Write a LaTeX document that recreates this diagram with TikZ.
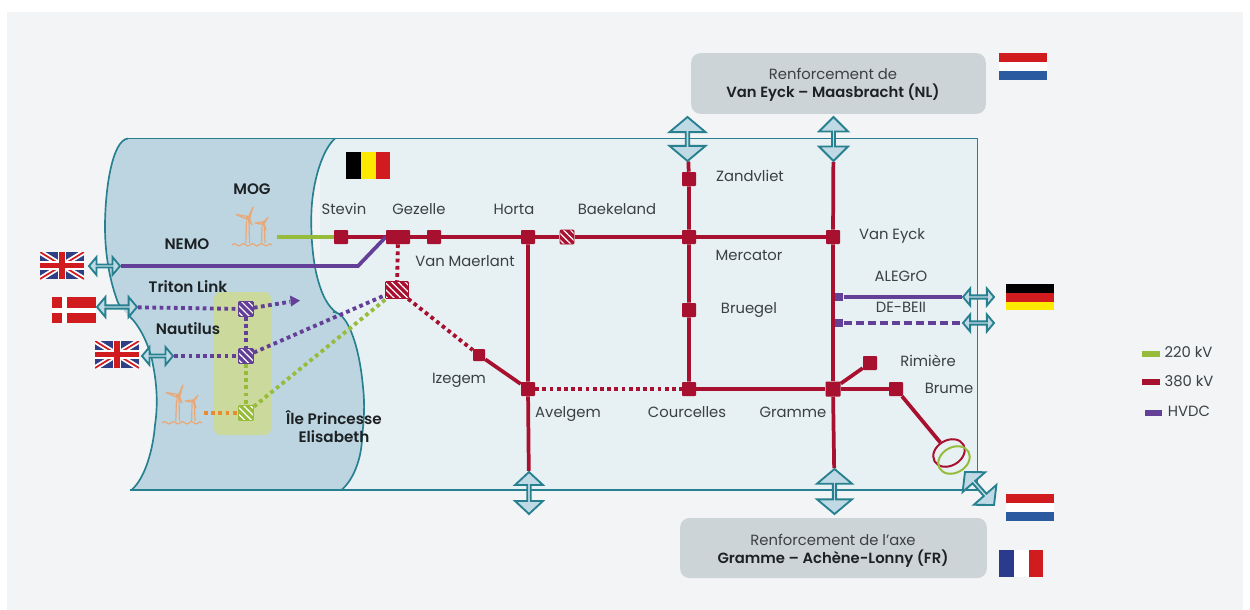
\documentclass[tikz,border=0pt]{standalone}
\usepackage{fontspec}
\setmainfont{Poppins}[BoldFont={Poppins SemiBold}]
\usetikzlibrary{shapes.geometric,shapes.arrows,patterns.meta,arrows.meta}
\definecolor{pagebg}{HTML}{F2F4F6}
\definecolor{landc}{HTML}{E7F0F3}
\definecolor{seac}{HTML}{BDD5E1}
\definecolor{teal}{HTML}{26808F}
\definecolor{arrowf}{HTML}{BFDAE4}
\definecolor{red380}{HTML}{A8102F}
\definecolor{purp}{HTML}{643F98}
\definecolor{grn}{HTML}{97BC3C}
\definecolor{orng}{HTML}{E98B30}
\definecolor{isle}{HTML}{CBDA9C}
\definecolor{boxc}{HTML}{CDD4D8}
\definecolor{turb}{HTML}{E8A878}
\definecolor{txt}{HTML}{3A4044}
\definecolor{txtb}{HTML}{1C2124}
\definecolor{flagred}{HTML}{D01C1F}
\definecolor{flagblue}{HTML}{2C5AA0}
\definecolor{ukblue}{HTML}{2F3E85}
\definecolor{frblue}{HTML}{2B3A8C}
\definecolor{beyel}{HTML}{FDE800}
\pgfdeclarelayer{base}\pgfdeclarelayer{lines}
\pgfsetlayers{base,lines,main}
\tikzset{
  lab/.style={font=\fontsize{11.1}{13}\selectfont,text=txt,inner sep=0pt,text height=10pt,text depth=2.2pt},
  blab/.style={font=\fontsize{11.4}{13}\selectfont\bfseries,text=txtb,inner sep=0pt,text height=10pt,text depth=2.2pt},
  blabm/.style={font=\fontsize{11.4}{13}\selectfont\bfseries,text=txtb,inner sep=0pt,align=center},
  sta/.style={rectangle,fill=red380,inner sep=0pt,rounded corners=0.6pt,minimum size=#1*0.75pt},
  hatchsta/.style n args={3}{rectangle,inner sep=0pt,rounded corners=0.6pt,minimum width=#1*0.75pt,minimum height=#2*0.75pt,
     preaction={fill=#3},draw=#3,line width=0.5pt,pattern={Lines[angle=-45,distance=3.6pt,line width=0.9pt]},pattern color=white},
  line380/.style={draw=red380,line width=2.8pt},
  dots/.style={line width=2.9pt,dash pattern=on 2.8pt off 2.6pt},
  darrow/.style n args={3}{shape=double arrow,draw=teal,fill=arrowf,line width=1.4pt,inner sep=0pt,
     minimum height=#1*0.75pt,minimum width=#2*0.75pt,double arrow head extend={(#2-#3)/2*0.75pt}},
  greybox/.style={rectangle,fill=boxc,rounded corners=7pt,inner sep=0pt},
  greytext/.style={inner sep=0pt,align=center,text=txt,font=\fontsize{11.1}{13.6}\selectfont},
  swatch/.style={line width=4.4pt},
  ring/.style={shape=ellipse,draw=#1,line width=1.5pt,inner sep=0pt,minimum width=25pt,minimum height=19pt,rotate=30},
  turbline/.style={draw=turb,line width=0.9pt,line join=round},
}
\newcommand{\ukflag}[2]{%
  \begin{scope}[shift={(#1,#2)}]
    \begin{scope}
    \clip (0,0) rectangle (44,27);
    \fill[ukblue] (0,0) rectangle (44,27);
    \draw[white,line width=4pt] (0,0) -- (44,27) (0,27) -- (44,0);
    \draw[flagred,line width=1.3pt] (0,0) -- (44,27) (0,27) -- (44,0);
    \draw[white,line width=6.4pt] (22,0) -- (22,27) (0,13.5) -- (44,13.5);
    \draw[flagred,line width=3.9pt] (22,0) -- (22,27) (0,13.5) -- (44,13.5);
    \end{scope}
  \end{scope}}
\newcommand{\nlflag}[2]{%
  \begin{scope}[shift={(#1,#2)}]
    \fill[flagred] (0,0) rectangle (48,9);
    \fill[white] (0,9) rectangle (48,18);
    \fill[flagblue] (0,18) rectangle (48,27);
  \end{scope}}
\newcommand{\turbine}[2]{%
  \begin{scope}[shift={(#1,#2)}]
    \draw[turbline] (-1.5,3) -- (-2.2,25) (1,3) -- (1.5,25);
    \draw[turbline] (0,0) -- (5,-11) -- (1.5,1) -- cycle;
    \draw[turbline] (0,-1.5) -- (-12,-3.5) -- (-0.5,1.5) -- cycle;
    \draw[turbline] (-0.5,1) -- (4,7) -- (1.5,0) -- cycle;
    \draw[turbline] (0,0) circle (1.6);
    \draw[turbline] (14,8) -- (13.6,25) (16.4,8) -- (17,25);
    \draw[turbline] (15,5) -- (20,-1) -- (16,6) -- cycle;
    \draw[turbline] (15,4) -- (7,5) -- (15,6.5) -- cycle;
    \draw[turbline] (15,6) -- (18,12) -- (16,5) -- cycle;
    \draw[turbline] (15.2,5.2) circle (1.2);
    \draw[turbline] (-16,27) .. controls (-13,22) and (-10,31) .. (-7,27) .. controls (-4,22) and (-1,31) .. (2,27)
       .. controls (5,22) and (8,31) .. (11,27) .. controls (14,22) and (17,31) .. (20,27) .. controls (21,25.5) and (22.5,25.5) .. (24,27);
  \end{scope}}
\begin{document}
\begin{tikzpicture}[x=0.75pt,y=-0.75pt]
\useasboundingbox (0,0) rectangle (1250,610);
\begin{pgfonlayer}{base}
  \fill[white] (0,0) rectangle (1250,610);
  \fill[pagebg] (7,12) rectangle (1243,610);
  % land
  \fill[landc] (320,138.5) rectangle (977,490);
  % sea
  \fill[seac] (128,138.5) .. controls (112,140) and (105,190) .. (105,227)
     .. controls (105,255) and (110,280) .. (116,297)
     .. controls (118,304) and (124,311) .. (128,315)
     .. controls (140,325) and (150,347) .. (153,365)
     .. controls (157,385) and (158,405) .. (155,425)
     .. controls (153,450) and (145,478) .. (132,489.5)
     -- (342,489.5)
     .. controls (355,478) and (362,455) .. (362,437)
     .. controls (364,420) and (365,405) .. (363,387)
     .. controls (361,365) and (357,345) .. (350,329)
     .. controls (346,320) and (342,315) .. (337,313)
     .. controls (328,307) and (322,295) .. (318,280)
     .. controls (312,260) and (310,225) .. (312,203)
     .. controls (314,180) and (322,150) .. (335,138.5) -- cycle;
  % outlines
  \draw[teal,line width=1.25pt] (335,138.5) .. controls (322,150) and (314,180) .. (312,203)
     .. controls (310,225) and (312,260) .. (318,280)
     .. controls (322,295) and (328,307) .. (337,313);
  \draw[teal,line width=1.25pt] (333,312) .. controls (340,312) and (346,320) .. (350,329)
     .. controls (357,345) and (361,365) .. (363,387)
     .. controls (365,405) and (364,420) .. (362,437)
     .. controls (362,455) and (355,478) .. (342,489.5);
  \draw[teal,line width=1.25pt] (128,138.5) .. controls (112,140) and (105,190) .. (105,227)
     .. controls (105,255) and (110,280) .. (116,297)
     .. controls (118,304) and (120,306) .. (122,309);
  \draw[teal,line width=1.25pt] (128,315) .. controls (140,325) and (150,347) .. (153,365)
     .. controls (157,385) and (158,405) .. (155,425)
     .. controls (153,450) and (145,478) .. (132,489.5);
  \draw[teal,line width=1.25pt] (128,138.5) -- (977.5,138.5) -- (977.5,490) -- (130,490);
  % island zone
  \fill[isle,rounded corners=5pt] (214,292) rectangle (271,435);
  % turbines
  \turbine{248}{218}
  \turbine{178}{396}
\end{pgfonlayer}

% flags
\ukflag{40}{252}
\ukflag{95}{341}
\fill[flagred] (52,297) rectangle (96,323);
\fill[white] (62,297) rectangle (66.5,323);
\fill[white] (52,308) rectangle (96,312.5);
\fill[black] (346,152) rectangle (361,179);
\fill[beyel] (361,152) rectangle (375.5,179);
\fill[flagred] (375.5,152) rectangle (390,179);
\nlflag{999}{53}
\nlflag{1006}{494}
\fill[black] (1006,284) rectangle (1054,293);
\fill[flagred] (1006,293) rectangle (1054,301.5);
\fill[beyel] (1006,301.5) rectangle (1054,310);
\fill[frblue] (999,550) rectangle (1014,577);
\fill[white] (1014,550) rectangle (1028.5,577);
\fill[flagred] (1028.5,550) rectangle (1043,577);

% stations
\node[sta=14] (stevin) at (341,237) {};
\node[rectangle,fill=red380,inner sep=0pt,rounded corners=0.6pt,minimum width=18pt,minimum height=10.5pt] (gezelle) at (398,237) {};
\node[sta=14] (vanm) at (434,237) {};
\node[sta=14] (horta) at (528,237) {};
\node[hatchsta={14}{14}{red380}] (baek) at (567,237) {};
\node[sta=14] (merc) at (689,237) {};
\node[sta=14] (vane) at (833,237) {};
\node[sta=14] (zand) at (689,179) {};
\node[sta=14] (brue) at (689,310) {};
\node[sta=14] (avel) at (528,389) {};
\node[sta=14] (cour) at (689,389) {};
\node[sta=15] (gram) at (833,389) {};
\node[sta=14] (rimi) at (870,363) {};
\node[sta=14] (brum) at (896,389) {};
\node[sta=12] (izeg) at (479,355) {};
\node[hatchsta={23}{17}{red380}] (hub) at (397,290) {};
\node[hatchsta={15}{15}{purp}] (isa) at (246,309) {};
\node[hatchsta={15}{15}{purp}] (isb) at (246,356) {};
\node[hatchsta={15}{15}{grn}] (isc) at (246,413) {};
\node[rectangle,fill=purp,inner sep=0pt,minimum size=6.5pt] (hva) at (839,297) {};
\node[rectangle,fill=purp,inner sep=0pt,minimum size=6.5pt] (hvb) at (839,323) {};

% arrows
\node[darrow={44}{36}{18},double arrow tip angle=100,rotate=90] (at1) at (687.5,139) {};
\node[darrow={44}{29}{13},double arrow tip angle=90,rotate=90] (at2) at (833.5,139) {};
\node[darrow={42}{28}{15},double arrow tip angle=94,rotate=90] (ab1) at (529,493) {};
\node[darrow={45}{35}{17},double arrow tip angle=100,rotate=90] (ab2) at (834.5,491.5) {};
\node[darrow={44}{30}{16},double arrow tip angle=96,rotate=-48.7] (adiag) at (979.5,488.5) {};
\node[darrow={31}{18}{9},double arrow tip angle=100] (auk1) at (104.5,266) {};
\node[darrow={40}{20}{10},double arrow tip angle=100] (adk) at (117,307) {};
\node[darrow={31}{18}{9},double arrow tip angle=100] (auk2) at (157.5,356) {};
\node[darrow={31}{17}{9},double arrow tip angle=100] (ade1) at (978.5,297) {};
\node[darrow={31}{17}{9},double arrow tip angle=100] (ade2) at (978.5,323) {};

% transformer
\node[ring=red380] (tr1) at (949,453) {};
\node[ring=grn] (tr2) at (954,460) {};

% free ends
\coordinate (mogend) at (277,237);
\coordinate (nemobend) at (358,266);
\coordinate (tritend) at (300,300.5);
\coordinate (tritdot) at (290,301.8);
\coordinate (turbend) at (204,413);

\begin{pgfonlayer}{lines}
  \draw[line380] (stevin) -- (gezelle) -- (vanm) -- (horta) -- (baek) -- (merc) -- (vane);
  \draw[line380] (at1) -- (zand) -- (merc) -- (brue) -- (cour);
  \draw[line380] (at2) -- (vane) -- (gram) -- (ab2);
  \draw[line380] (horta) -- (avel) -- (ab1);
  \draw[line380] (izeg) -- (avel);
  \draw[line380] (cour) -- (gram) -- (brum);
  \draw[line380] (gram) -- (rimi);
  \draw[line380] (brum) -- (tr1);
  \draw[grn,line width=2.8pt] (mogend) -- (stevin);
  \draw[purp,line width=2.8pt] (auk1) -- (nemobend) -- (gezelle.west);
  \draw[purp,line width=2.8pt] (hva) -- (ade1);
  \draw[purp,line width=2.8pt,dash pattern=on 6pt off 3pt] (hvb) -- (ade2);
  \draw[red380,dots] (gezelle) -- (hub);
  \draw[red380,dots] (hub) -- (izeg);
  \draw[red380,dots] (avel) -- (cour);
  \draw[purp,dots] (adk) -- (isa);
  \draw[purp,dots] (auk2) -- (isb);
  \draw[purp,dots] (isa) -- (isb);
  \draw[purp,dots] (isb) -- (hub);
  \draw[purp,dots] (isa) -- (tritdot);
  \draw[grn,dots] (isb) -- (isc);
  \draw[grn,dots] (isc) -- (hub);
  \draw[orng,dots] (turbend) -- (isc);
\end{pgfonlayer}
\fill[purp] (tritend) -- (290,295.5) -- (291,306.5) -- cycle;

% labels
\node[blab] (lmog) at (252,189) {MOG};
\node[blab] (lnemo) at (187,244) {NEMO};
\node[blab] (ltrit) at (188,287) {Triton Link};
\node[blab] (lnaut) at (188,329) {Nautilus};
\node[blabm] (lile) at (334,426.5) {Île Princesse\\Elisabeth};
\node[lab] (l1) at (344,209) {Stevin};
\node[lab] (l2) at (419,209) {Gezelle};
\node[lab] (l3) at (514,209) {Horta};
\node[lab] (l4) at (617,209) {Baekeland};
\node[lab] (l5) at (750,176) {Zandvliet};
\node[lab] (l6) at (465,261) {Van Maerlant};
\node[lab] (l7) at (749,255) {Mercator};
\node[lab] (l8) at (749,308) {Bruegel};
\node[lab] (l9) at (892,234) {Van Eyck};
\node[lab] (l10) at (901,276) {ALEGrO};
\node[lab] (l11) at (901,307) {DE-BEII};
\node[lab] (l12) at (928,361) {Rimière};
\node[lab] (l13) at (949,388) {Brume};
\node[lab] (l14) at (459,378) {Izegem};
\node[lab] (l15) at (568,412) {Avelgem};
\node[lab] (l16) at (687,412) {Courcelles};
\node[lab] (l17) at (793,412) {Gramme};

% boxes
\node[greybox,minimum width=221pt,minimum height=45.5pt] (bt) at (838.5,83.5) {};
\node[greybox,minimum width=230pt,minimum height=45pt] (bb) at (833.5,548) {};
\node[greytext] (btt) at (833,84.5) {Renforcement de\\{\color{txtb}\bfseries Van Eyck – Maasbracht (NL)}};
\node[greytext] (bbt) at (833,550.5) {Renforcement de l'axe\\{\color{txtb}\bfseries Gramme – Achène-Lonny (FR)}};

% legend
\coordinate (k1a) at (1142,354); \coordinate (k1b) at (1160,354);
\coordinate (k2a) at (1142,382); \coordinate (k2b) at (1160,382);
\coordinate (k3a) at (1145,413); \coordinate (k3b) at (1162,413);
\draw[grn,swatch] (k1a) -- (k1b);
\draw[red380,swatch] (k2a) -- (k2b);
\draw[purp,swatch] (k3a) -- (k3b);
\node[lab] (k1) at (1188.5,352) {220 kV};
\node[lab] (k2) at (1189,381) {380 kV};
\node[lab] (k3) at (1189,411) {HVDC};
\end{tikzpicture}
\end{document}
